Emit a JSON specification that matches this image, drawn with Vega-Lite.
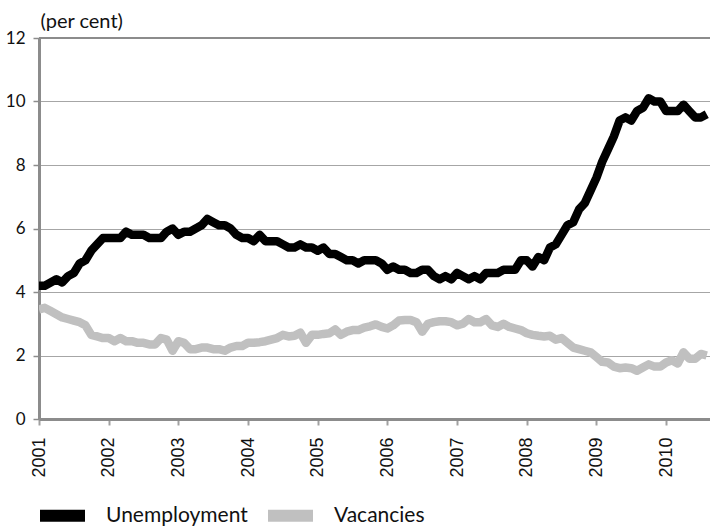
{
  "$schema": "https://vega.github.io/schema/vega-lite/v6.json",
  "width": 671,
  "height": 381,
  "autosize": {"type": "none"},
  "padding": {"left": 39, "top": 38, "right": 0, "bottom": 107},
  "background": "white",
  "config": {
    "view": {"stroke": null},
    "font": "Lato"
  },
  "layer": [
    {
      "data": {
        "values": [
          {"t": 2001.000, "Unemployment": 4.2, "Vacancies": 3.45},
          {"t": 2001.083, "Unemployment": 4.2, "Vacancies": 3.5},
          {"t": 2001.167, "Unemployment": 4.3, "Vacancies": 3.4},
          {"t": 2001.250, "Unemployment": 4.4, "Vacancies": 3.3},
          {"t": 2001.333, "Unemployment": 4.3, "Vacancies": 3.2},
          {"t": 2001.417, "Unemployment": 4.5, "Vacancies": 3.15},
          {"t": 2001.500, "Unemployment": 4.6, "Vacancies": 3.1},
          {"t": 2001.583, "Unemployment": 4.9, "Vacancies": 3.05},
          {"t": 2001.667, "Unemployment": 5.0, "Vacancies": 2.95},
          {"t": 2001.750, "Unemployment": 5.3, "Vacancies": 2.65},
          {"t": 2001.833, "Unemployment": 5.5, "Vacancies": 2.6},
          {"t": 2001.917, "Unemployment": 5.7, "Vacancies": 2.55},
          {"t": 2002.000, "Unemployment": 5.7, "Vacancies": 2.55},
          {"t": 2002.083, "Unemployment": 5.7, "Vacancies": 2.45},
          {"t": 2002.167, "Unemployment": 5.7, "Vacancies": 2.55},
          {"t": 2002.250, "Unemployment": 5.9, "Vacancies": 2.45},
          {"t": 2002.333, "Unemployment": 5.8, "Vacancies": 2.45},
          {"t": 2002.417, "Unemployment": 5.8, "Vacancies": 2.4},
          {"t": 2002.500, "Unemployment": 5.8, "Vacancies": 2.4},
          {"t": 2002.583, "Unemployment": 5.7, "Vacancies": 2.35},
          {"t": 2002.667, "Unemployment": 5.7, "Vacancies": 2.35},
          {"t": 2002.750, "Unemployment": 5.7, "Vacancies": 2.55},
          {"t": 2002.833, "Unemployment": 5.9, "Vacancies": 2.5},
          {"t": 2002.917, "Unemployment": 6.0, "Vacancies": 2.15},
          {"t": 2003.000, "Unemployment": 5.8, "Vacancies": 2.45},
          {"t": 2003.083, "Unemployment": 5.9, "Vacancies": 2.4},
          {"t": 2003.167, "Unemployment": 5.9, "Vacancies": 2.2},
          {"t": 2003.250, "Unemployment": 6.0, "Vacancies": 2.2},
          {"t": 2003.333, "Unemployment": 6.1, "Vacancies": 2.25},
          {"t": 2003.417, "Unemployment": 6.3, "Vacancies": 2.25},
          {"t": 2003.500, "Unemployment": 6.2, "Vacancies": 2.2},
          {"t": 2003.583, "Unemployment": 6.1, "Vacancies": 2.2},
          {"t": 2003.667, "Unemployment": 6.1, "Vacancies": 2.15},
          {"t": 2003.750, "Unemployment": 6.0, "Vacancies": 2.25},
          {"t": 2003.833, "Unemployment": 5.8, "Vacancies": 2.3},
          {"t": 2003.917, "Unemployment": 5.7, "Vacancies": 2.3},
          {"t": 2004.000, "Unemployment": 5.7, "Vacancies": 2.4},
          {"t": 2004.083, "Unemployment": 5.6, "Vacancies": 2.4},
          {"t": 2004.167, "Unemployment": 5.8, "Vacancies": 2.42},
          {"t": 2004.250, "Unemployment": 5.6, "Vacancies": 2.45},
          {"t": 2004.333, "Unemployment": 5.6, "Vacancies": 2.5},
          {"t": 2004.417, "Unemployment": 5.6, "Vacancies": 2.55},
          {"t": 2004.500, "Unemployment": 5.5, "Vacancies": 2.65},
          {"t": 2004.583, "Unemployment": 5.4, "Vacancies": 2.6},
          {"t": 2004.667, "Unemployment": 5.4, "Vacancies": 2.62},
          {"t": 2004.750, "Unemployment": 5.5, "Vacancies": 2.72},
          {"t": 2004.833, "Unemployment": 5.4, "Vacancies": 2.4},
          {"t": 2004.917, "Unemployment": 5.4, "Vacancies": 2.65},
          {"t": 2005.000, "Unemployment": 5.3, "Vacancies": 2.65},
          {"t": 2005.083, "Unemployment": 5.4, "Vacancies": 2.68},
          {"t": 2005.167, "Unemployment": 5.2, "Vacancies": 2.7},
          {"t": 2005.250, "Unemployment": 5.2, "Vacancies": 2.82},
          {"t": 2005.333, "Unemployment": 5.1, "Vacancies": 2.65},
          {"t": 2005.417, "Unemployment": 5.0, "Vacancies": 2.75},
          {"t": 2005.500, "Unemployment": 5.0, "Vacancies": 2.8},
          {"t": 2005.583, "Unemployment": 4.9, "Vacancies": 2.8},
          {"t": 2005.667, "Unemployment": 5.0, "Vacancies": 2.88},
          {"t": 2005.750, "Unemployment": 5.0, "Vacancies": 2.92},
          {"t": 2005.833, "Unemployment": 5.0, "Vacancies": 2.98},
          {"t": 2005.917, "Unemployment": 4.9, "Vacancies": 2.9},
          {"t": 2006.000, "Unemployment": 4.7, "Vacancies": 2.85},
          {"t": 2006.083, "Unemployment": 4.8, "Vacancies": 2.95},
          {"t": 2006.167, "Unemployment": 4.7, "Vacancies": 3.1},
          {"t": 2006.250, "Unemployment": 4.7, "Vacancies": 3.12},
          {"t": 2006.333, "Unemployment": 4.6, "Vacancies": 3.12},
          {"t": 2006.417, "Unemployment": 4.6, "Vacancies": 3.05},
          {"t": 2006.500, "Unemployment": 4.7, "Vacancies": 2.75},
          {"t": 2006.583, "Unemployment": 4.7, "Vacancies": 3.0},
          {"t": 2006.667, "Unemployment": 4.5, "Vacancies": 3.05},
          {"t": 2006.750, "Unemployment": 4.4, "Vacancies": 3.08},
          {"t": 2006.833, "Unemployment": 4.5, "Vacancies": 3.08},
          {"t": 2006.917, "Unemployment": 4.4, "Vacancies": 3.05},
          {"t": 2007.000, "Unemployment": 4.6, "Vacancies": 2.95},
          {"t": 2007.083, "Unemployment": 4.5, "Vacancies": 3.0},
          {"t": 2007.167, "Unemployment": 4.4, "Vacancies": 3.15},
          {"t": 2007.250, "Unemployment": 4.5, "Vacancies": 3.05},
          {"t": 2007.333, "Unemployment": 4.4, "Vacancies": 3.05},
          {"t": 2007.417, "Unemployment": 4.6, "Vacancies": 3.15},
          {"t": 2007.500, "Unemployment": 4.6, "Vacancies": 2.95},
          {"t": 2007.583, "Unemployment": 4.6, "Vacancies": 2.9},
          {"t": 2007.667, "Unemployment": 4.7, "Vacancies": 3.0},
          {"t": 2007.750, "Unemployment": 4.7, "Vacancies": 2.9},
          {"t": 2007.833, "Unemployment": 4.7, "Vacancies": 2.85},
          {"t": 2007.917, "Unemployment": 5.0, "Vacancies": 2.8},
          {"t": 2008.000, "Unemployment": 5.0, "Vacancies": 2.7},
          {"t": 2008.083, "Unemployment": 4.8, "Vacancies": 2.65},
          {"t": 2008.167, "Unemployment": 5.1, "Vacancies": 2.62},
          {"t": 2008.250, "Unemployment": 5.0, "Vacancies": 2.6},
          {"t": 2008.333, "Unemployment": 5.4, "Vacancies": 2.62},
          {"t": 2008.417, "Unemployment": 5.5, "Vacancies": 2.5},
          {"t": 2008.500, "Unemployment": 5.8, "Vacancies": 2.55},
          {"t": 2008.583, "Unemployment": 6.1, "Vacancies": 2.4},
          {"t": 2008.667, "Unemployment": 6.2, "Vacancies": 2.25},
          {"t": 2008.750, "Unemployment": 6.6, "Vacancies": 2.2},
          {"t": 2008.833, "Unemployment": 6.8, "Vacancies": 2.15},
          {"t": 2008.917, "Unemployment": 7.2, "Vacancies": 2.1},
          {"t": 2009.000, "Unemployment": 7.6, "Vacancies": 1.95},
          {"t": 2009.083, "Unemployment": 8.1, "Vacancies": 1.8},
          {"t": 2009.167, "Unemployment": 8.5, "Vacancies": 1.78},
          {"t": 2009.250, "Unemployment": 8.9, "Vacancies": 1.65},
          {"t": 2009.333, "Unemployment": 9.4, "Vacancies": 1.6},
          {"t": 2009.417, "Unemployment": 9.5, "Vacancies": 1.62},
          {"t": 2009.500, "Unemployment": 9.4, "Vacancies": 1.6},
          {"t": 2009.583, "Unemployment": 9.7, "Vacancies": 1.52},
          {"t": 2009.667, "Unemployment": 9.8, "Vacancies": 1.62},
          {"t": 2009.750, "Unemployment": 10.1, "Vacancies": 1.72},
          {"t": 2009.833, "Unemployment": 10.0, "Vacancies": 1.65},
          {"t": 2009.917, "Unemployment": 10.0, "Vacancies": 1.65},
          {"t": 2010.000, "Unemployment": 9.7, "Vacancies": 1.78},
          {"t": 2010.083, "Unemployment": 9.7, "Vacancies": 1.85},
          {"t": 2010.167, "Unemployment": 9.7, "Vacancies": 1.75},
          {"t": 2010.250, "Unemployment": 9.9, "Vacancies": 2.1},
          {"t": 2010.333, "Unemployment": 9.7, "Vacancies": 1.9},
          {"t": 2010.417, "Unemployment": 9.5, "Vacancies": 1.9},
          {"t": 2010.500, "Unemployment": 9.5, "Vacancies": 2.05},
          {"t": 2010.583, "Unemployment": 9.6, "Vacancies": 2.0}
        ]
      },
      "transform": [{"fold": ["Unemployment", "Vacancies"], "as": ["series", "value"]}],
      "mark": {"type": "line", "strokeWidth": 8.5, "strokeJoin": "round", "strokeCap": "butt", "clip": true},
      "encoding": {
        "x": {
          "field": "t",
          "type": "quantitative",
          "scale": {"domain": [2001, 2010.63], "nice": false, "zero": false},
          "axis": {
            "title": null,
            "values": [2001, 2002, 2003, 2004, 2005, 2006, 2007, 2008, 2009, 2010],
            "format": "d",
            "grid": false,
            "domainColor": "#8c8c8c",
            "domainWidth": 3,
            "tickColor": "#a0a0a0",
            "tickSize": 6,
            "tickWidth": 2,
            "labelAngle": -90,
            "labelAlign": "right",
            "labelBaseline": "middle",
            "labelFont": "Liberation Sans",
            "labelFontSize": 18,
            "labelColor": "#111111",
            "labelPadding": 12,
            "labelDy": -3,
            "labelOverlap": false,
            "labelFlush": false
          }
        },
        "y": {
          "field": "value",
          "type": "quantitative",
          "scale": {"domain": [0, 12], "nice": false},
          "axis": {
            "title": "(per cent)",
            "titleAngle": 0,
            "titleAlign": "left",
            "titleBaseline": "alphabetic",
            "titleX": 1,
            "titleY": -11,
            "titleFont": "Lato",
            "titleFontSize": 20,
            "titleFontWeight": "normal",
            "titleColor": "#111111",
            "values": [0, 2, 4, 6, 8, 10, 12],
            "grid": true,
            "gridColor": "#a6a6a6",
            "gridWidth": 1,
            "domainColor": "#8c8c8c",
            "domainWidth": 3,
            "tickColor": "#8c8c8c",
            "tickSize": 6,
            "tickWidth": 1.5,
            "labelFont": "Lato",
            "labelFontSize": 17,
            "labelColor": "#111111",
            "labelPadding": 8
          }
        },
        "color": {
          "field": "series",
          "type": "nominal",
          "scale": {"domain": ["Unemployment", "Vacancies"], "range": ["#000000", "#c0c0c0"]},
          "legend": {
            "title": null,
            "orient": "none",
            "direction": "horizontal",
            "legendX": -5,
            "legendY": 449,
            "symbolType": "stroke",
            "symbolStrokeWidth": 12,
            "symbolSize": 2025,
            "labelFont": "Lato",
            "labelFontSize": 21,
            "labelColor": "#111111",
            "labelOffset": 15,
            "columnPadding": -4,
            "padding": 0
          }
        }
      }
    },
    {
      "data": {"values": [{"level": 12}]},
      "mark": {"type": "rule", "color": "#8c8c8c", "strokeWidth": 2},
      "encoding": {
        "y": {"field": "level", "type": "quantitative"}
      }
    }
  ]
}
